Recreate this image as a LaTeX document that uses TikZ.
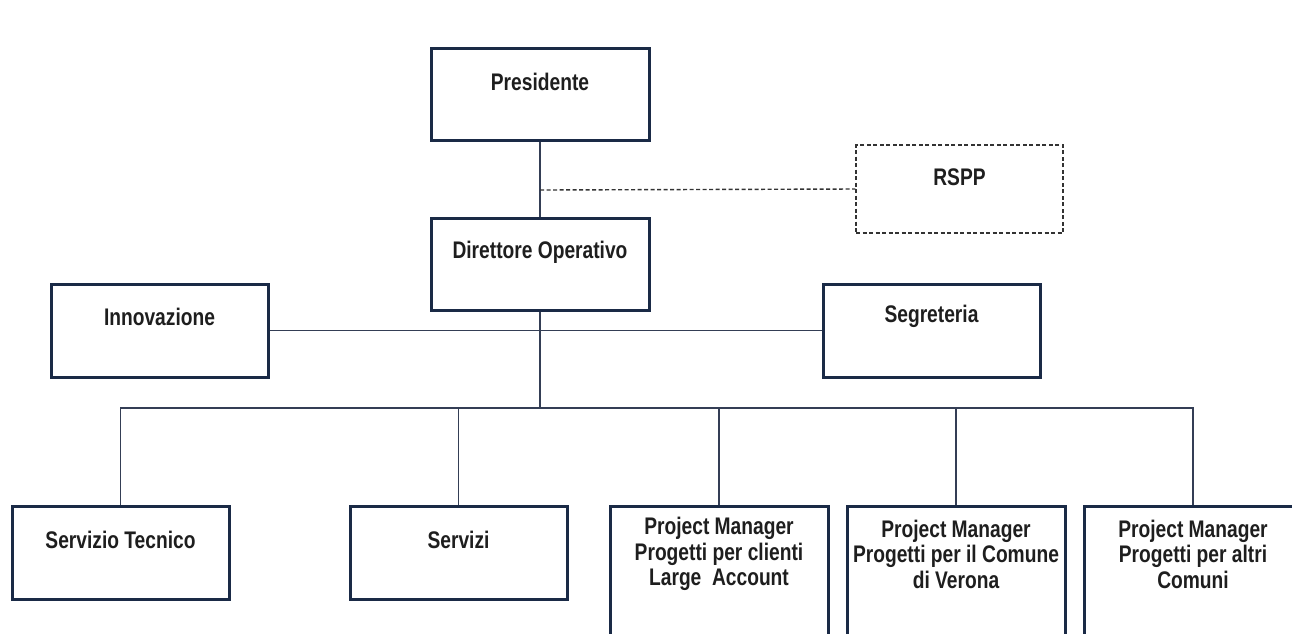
\documentclass[tikz,border=0pt]{standalone}
\usepackage{fontspec}
\newfontfamily\narrowfont{Liberation Sans}[FakeStretch=0.80]
\definecolor{boxline}{HTML}{1A2A46}
\definecolor{conline}{HTML}{343E55}
\definecolor{dashline}{HTML}{333333}
\definecolor{txtcol}{HTML}{1E1E1E}
\tikzset{
  box/.style={draw=boxline, line width=3pt, rectangle, minimum width=218pt, minimum height=92pt, inner sep=0pt, fill=white},
  dbox/.style={draw=dashline, line width=1.4pt, dash pattern=on 4pt off 2.5pt, rectangle, minimum width=207pt, minimum height=88pt, inner sep=0pt, fill=white},
  pmbox/.style={box, minimum height=160pt},
  lbl/.style={font=\narrowfont\bfseries\fontsize{24}{25.5}\selectfont, text=txtcol, align=center, inner sep=0pt},
  con/.style={draw=conline, line width=1.8pt},
  dcon/.style={draw=dashline, line width=1.4pt, dash pattern=on 4pt off 2.5pt},
}
\begin{document}
\begin{tikzpicture}[x=1pt,y=-1pt]
\clip (0,0) rectangle (1292,633);
\fill[white] (0,0) rectangle (1292,633);

\coordinate (bus) at (540,408);
\coordinate (dj) at (540,190);

% boxes
\node[box] (pres) at (540,94) {};
\node[box] (dir) at (540,264) {};
\node[dbox] (rspp) at (959.5,189) {};
\node[box, minimum width=217pt, minimum height=93pt] (inn) at (159.5,330.5) {};
\node[box, minimum width=217pt, minimum height=93pt] (seg) at (931.5,330.5) {};
\node[box, minimum width=217pt, minimum height=93pt] (st) at (120.5,552.5) {};
\node[box, minimum width=217pt, minimum height=93pt] (serv) at (458.5,552.5) {};
\node[pmbox, anchor=north] (pm1) at (719,505) {};
\node[pmbox, anchor=north] (pm2) at (956,505) {};
\node[pmbox, anchor=north] (pm3) at (1193,505) {};

% lines
\draw[con] (pres.south) -- (dir.north);
\draw[dcon] (dj) -- (rspp.west);
\draw[con] (dir.south) -- (bus);
\draw[con] (inn.east) -- (seg.west);
\draw[con] (bus) -| (st.north);
\draw[con] (bus) -| (serv.north);
\draw[con] (bus) -| (pm1.north);
\draw[con] (bus) -| (pm2.north);
\draw[con] (bus) -| (pm3.north);

% texts
\node[lbl] (presT) at ([yshift=-35pt]pres.north) {Presidente};
\node[lbl] (dirT) at ([yshift=-36pt]dir.north) {Direttore Operativo};
\node[lbl] (rsppT) at ([yshift=-33pt]rspp.north) {RSPP};
\node[lbl] (innT) at ([yshift=-34pt]inn.north) {Innovazione};
\node[lbl] (segT) at ([yshift=-34pt]seg.north) {Segreteria};
\node[lbl] (stT) at ([yshift=-35pt]st.north) {Servizio Tecnico};
\node[lbl] (servT) at ([yshift=-35pt]serv.north) {Servizi};
\node[lbl] (pm1T) at ([yshift=-49pt]pm1.north) {Project Manager\\Progetti per clienti\\Large~~Account};
\node[lbl] (pm2T) at ([yshift=-49pt]pm2.north) {Project Manager\\Progetti per il Comune\\di Verona};
\node[lbl] (pm3T) at ([yshift=-49pt]pm3.north) {Project Manager\\Progetti per altri\\Comuni};
\end{tikzpicture}
\end{document}
